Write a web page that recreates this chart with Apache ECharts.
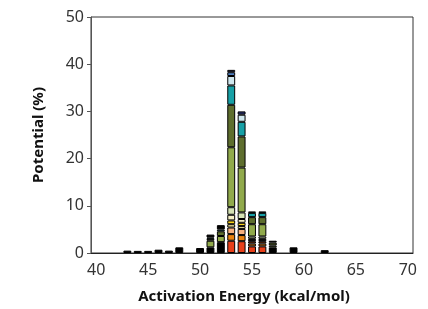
<!DOCTYPE html>
<html>
<head>
<meta charset="utf-8">
<script src="https://cdn.jsdelivr.net/npm/echarts@6/dist/echarts.min.js"></script>
<style>
html, body { margin: 0; padding: 0; background: #fff; }
#chart { width: 428px; height: 309px; }
</style>
</head>
<body>
<div id="chart"></div>
<script>
// categories: activation energy 40..70 kcal/mol
const energies = ['40', '41', '42', '43', '44', '45', '46', '47', '48', '49',
	'50', '51', '52', '53', '54', '55', '56', '57', '58', '59',
	'60', '61', '62', '63', '64', '65', '66', '67', '68', '69', '70'];

// stacked segments, bottom -> top, one value per category (%)
//                  40 41 42 43   44   45   46   47   48   49 50   51   52   53   54   55   56   57   58 59   60 61 62   63 64 65 66 67 68 69 70
const red =        [0, 0, 0, 0,   0,   0,   0,   0,   0,   0, 0,   0,   0,   2.6, 2.5, 1.4, 1.4, 0,   0, 0,   0, 0, 0,   0, 0, 0, 0, 0, 0, 0, 0];
const orange =     [0, 0, 0, 0,   0,   0,   0,   0,   0,   0, 0,   0,   0,   1.4, 1.3, 0.6, 0.6, 0,   0, 0,   0, 0, 0,   0, 0, 0, 0, 0, 0, 0, 0];
const brown =      [0, 0, 0, 0,   0,   0,   0,   0,   0,   0, 0,   0,   0,   0,   0,   0.5, 0.5, 0,   0, 0,   0, 0, 0,   0, 0, 0, 0, 0, 0, 0, 0];
const peach =      [0, 0, 0, 0,   0,   0,   0,   0,   0,   0, 0,   0,   0,   1.4, 1.3, 0,   0,   0,   0, 0,   0, 0, 0,   0, 0, 0, 0, 0, 0, 0, 0];
const paleYellow = [0, 0, 0, 0,   0,   0,   0,   0,   0,   0, 0,   0,   0,   0.7, 0.6, 0,   0,   0,   0, 0,   0, 0, 0,   0, 0, 0, 0, 0, 0, 0, 0];
const yellow =     [0, 0, 0, 0,   0,   0,   0,   0,   0,   0, 0,   0,   0,   0.8, 0.7, 0,   0,   0,   0, 0,   0, 0, 0,   0, 0, 0, 0, 0, 0, 0, 0];
const cream =      [0, 0, 0, 0,   0,   0,   0,   0,   0,   0, 0,   0,   0,   1.2, 0.8, 0,   0,   0,   0, 0,   0, 0, 0,   0, 0, 0, 0, 0, 0, 0, 0];
const blackLow =   [0, 0, 0, 0.5, 0.45,0.45,0.7, 0.5, 1.2, 0, 1.05,1.2, 2.3, 0,   0,   0.5, 0.5, 1.2, 0, 1.2, 0, 0, 0.6, 0, 0, 0, 0, 0, 0, 0, 0];
const paleGreen =  [0, 0, 0, 0,   0,   0,   0,   0,   0,   0, 0,   0,   0,   1.6, 1.4, 0.5, 0.5, 0,   0, 0,   0, 0, 0,   0, 0, 0, 0, 0, 0, 0, 0];
const lightGreen = [0, 0, 0, 0,   0,   0,   0,   0,   0,   0, 0,   1.4, 1.3, 12.7,9.5, 2.6, 2.6, 0.4, 0, 0,   0, 0, 0,   0, 0, 0, 0, 0, 0, 0, 0];
const darkOlive =  [0, 0, 0, 0,   0,   0,   0,   0,   0,   0, 0,   0.4, 1.0, 9.0, 6.6, 1.5, 1.5, 0.6, 0, 0,   0, 0, 0,   0, 0, 0, 0, 0, 0, 0, 0];
const teal =       [0, 0, 0, 0,   0,   0,   0,   0,   0,   0, 0,   0.3, 0.4, 4.1, 3.1, 0.9, 0.9, 0,   0, 0,   0, 0, 0,   0, 0, 0, 0, 0, 0, 0, 0];
const lightCyan =  [0, 0, 0, 0,   0,   0,   0,   0,   0,   0, 0,   0,   0,   2.0, 1.5, 0,   0,   0,   0, 0,   0, 0, 0,   0, 0, 0, 0, 0, 0, 0, 0];
const blue =       [0, 0, 0, 0,   0,   0,   0,   0,   0,   0, 0,   0,   0,   0.8, 0,   0,   0,   0,   0, 0,   0, 0, 0,   0, 0, 0, 0, 0, 0, 0, 0];
const navy =       [0, 0, 0, 0,   0,   0,   0,   0,   0,   0, 0,   0,   0,   0.5, 0.7, 0,   0,   0,   0, 0,   0, 0, 0,   0, 0, 0, 0, 0, 0, 0, 0];
const blackTop =   [0, 0, 0, 0,   0,   0,   0,   0,   0,   0, 0,   0.6, 0.9, 0,   0,   0.3, 0.3, 0.4, 0, 0,   0, 0, 0,   0, 0, 0, 0, 0, 0, 0, 0];

const yTicks = [0, 10, 20, 30, 40, 50];

const layers = [
	[red, '#e8401a'],
	[orange, '#e9820f'],
	[brown, '#8a3a16'],
	[peach, '#f5b07e'],
	[paleYellow, '#fff3a6'],
	[yellow, '#f9d21a'],
	[cream, '#f4efc4'],
	[blackLow, '#000000'],
	[paleGreen, '#d5e2b4'],
	[lightGreen, '#91aa4c'],
	[darkOlive, '#5e6e2e'],
	[teal, '#17a0a6'],
	[lightCyan, '#cfe7ee'],
	[blue, '#4f7fc0'],
	[navy, '#27306e'],
	[blackTop, '#000000']
];

const chart = echarts.init(document.getElementById('chart'));

const font = 'Noto Sans';

let option = {
	animation: false,
	grid: {
		left: 91,
		right: 15,
		top: 17,
		bottom: 55,
		show: true,
		borderColor: '#333',
		borderWidth: 1
	},
	xAxis: {
		type: 'category',
		data: energies,
		name: 'Activation Energy (kcal/mol)',
		nameLocation: 'middle',
		nameGap: 36,
		nameTextStyle: {
			fontFamily: font,
			fontWeight: 'bold',
			fontSize: 15,
			color: '#111',
			padding: [0, 16, 0, 0]
		},
		axisLine: { lineStyle: { color: '#222', width: 1 } },
		axisTick: { interval: 0, length: 5, lineStyle: { color: '#222' } },
		axisLabel: {
			interval: 4,
			margin: 9,
			fontFamily: font,
			fontSize: 16,
			color: '#333'
		}
	},
	yAxis: {
		type: 'value',
		min: yTicks[0],
		max: yTicks[yTicks.length - 1],
		interval: 10,
		name: 'Potential (%)',
		nameLocation: 'middle',
		nameGap: 45,
		nameTextStyle: {
			fontFamily: font,
			fontWeight: 'bold',
			fontSize: 15,
			color: '#111'
		},
		axisLine: { show: true, lineStyle: { color: '#555' } },
		axisTick: { show: true, length: 4, lineStyle: { color: '#555' } },
		splitLine: { show: false },
		axisLabel: {
			margin: 7,
			fontFamily: font,
			fontSize: 16,
			color: '#333'
		}
	},
	series: layers.map(function (l, i) {
		return {
			name: 's' + i,
			type: 'bar',
			stack: 'total',
			barWidth: '76%',
			// empty segments are left out so no zero-height outlines are drawn
			data: l[0].map(function (v) { return v === 0 ? '-' : v; }),
			itemStyle: {
				color: l[1],
				borderColor: '#000',
				borderWidth: 1
			}
		};
	})
};
chart.setOption(option);
</script>
</body>
</html>
